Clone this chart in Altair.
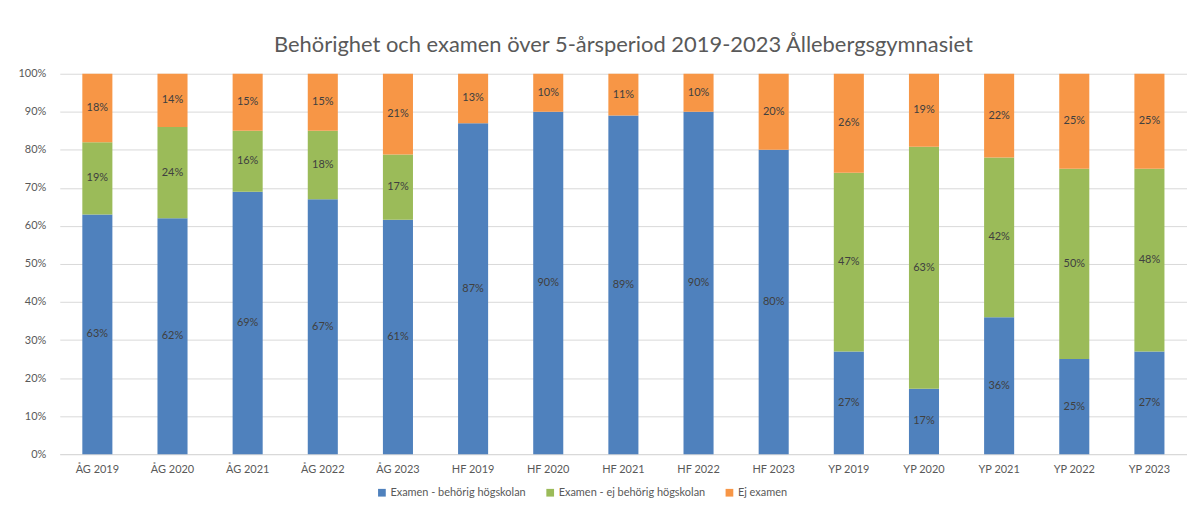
import altair as alt
import pandas as pd

categories = ["ÅG 2019", "ÅG 2020", "ÅG 2021", "ÅG 2022", "ÅG 2023",
              "HF 2019", "HF 2020", "HF 2021", "HF 2022", "HF 2023",
              "YP 2019", "YP 2020", "YP 2021", "YP 2022", "YP 2023"]
behorig = [63, 62, 69, 67, 61, 87, 90, 89, 90, 80, 27, 17, 36, 25, 27]
ej_behorig = [19, 24, 16, 18, 17, 0, 0, 0, 0, 0, 47, 63, 42, 50, 48]
ej_examen = [18, 14, 15, 15, 21, 13, 10, 11, 10, 20, 26, 19, 22, 25, 25]
series_names = ["Examen - behörig högskolan", "Examen - ej behörig högskolan", "Ej examen"]
colors = ["#4F81BD", "#9BBB59", "#F79646"]
y_ticks = [0, 0.1, 0.2, 0.3, 0.4, 0.5, 0.6, 0.7, 0.8, 0.9, 1.0]

rows = []
for i, cat in enumerate(categories):
    for j, vals in enumerate([behorig, ej_behorig, ej_examen]):
        rows.append({"cat": cat, "series": series_names[j], "idx": j,
                     "value": vals[i], "label": f"{vals[i]}%"})
df = pd.DataFrame(rows)

FONT = "Lato"

base = alt.Chart(df).transform_stack(
    stack="value", groupby=["cat"], as_=["y0", "y1"], offset="normalize",
    sort=[alt.SortField("idx", order="ascending")]
).transform_calculate(mid="(datum.y0 + datum.y1) / 2")


def xaxis():
    return alt.Axis(labelAngle=0, labelFontSize=11, labelColor="#595959",
                    labelFont=FONT, ticks=False, domain=True,
                    domainColor="#D9D9D9", labelPadding=9)


def xscale():
    return alt.Scale(paddingInner=0.6, paddingOuter=0.3)


def yaxis():
    return alt.Axis(values=y_ticks, format=".0%", labelFontSize=11, labelOverlap=False,
                    labelColor="#595959", labelFont=FONT, ticks=False,
                    domain=False, gridColor="#D9D9D9", labelPadding=14)


bars = base.mark_bar().encode(
    x=alt.X("cat:N", sort=categories, title=None, scale=xscale(), axis=xaxis()),
    y=alt.Y("y0:Q", title=None, scale=alt.Scale(domain=[0, 1]), axis=yaxis()),
    y2="y1:Q",
    color=alt.Color("series:N", scale=alt.Scale(domain=series_names, range=colors),
                    legend=alt.Legend(title=None, orient="none", direction="horizontal",
                                      legendX=318, legendY=415, symbolType="square",
                                      symbolSize=60, symbolStrokeWidth=0,
                                      labelFontSize=11, labelColor="#595959",
                                      labelFont=FONT, columnPadding=18,
                                      symbolOffset=0, labelOffset=3)),
)

text = base.transform_filter("datum.value > 0").mark_text(
    fontSize=11, color="#404040", font=FONT
).encode(
    x=alt.X("cat:N", sort=categories, title=None, scale=xscale(), axis=xaxis()),
    y=alt.Y("mid:Q", title=None, scale=alt.Scale(domain=[0, 1]), axis=yaxis()),
    text="label:N",
)

chart = (bars + text).properties(
    width=1132, height=382,
    title=alt.Title("Behörighet och examen över 5-årsperiod 2019-2023 Ållebergsgymnasiet",
                    fontSize=22, font=FONT, fontWeight="normal", color="#595959",
                    anchor="middle", offset=11),
    padding={"left": 10, "top": 25, "right": 0, "bottom": 0},
).configure_view(stroke=None)

chart.save("out.html", embed_options={"renderer": "svg", "actions": False})
